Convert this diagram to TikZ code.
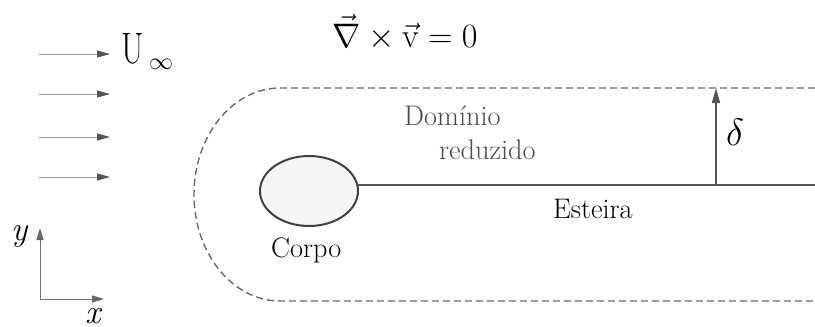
\RequirePackage{fix-cm}
\documentclass[tikz,border=0pt]{standalone}
\usepackage{fontspec}
\usetikzlibrary{arrows.meta,shapes.geometric}
\definecolor{flowline}{HTML}{999999}
\definecolor{flowhead}{HTML}{555555}
\definecolor{dashcol}{HTML}{6A6A6A}
\definecolor{wakecol}{HTML}{555555}
\definecolor{bodyfill}{HTML}{F5F5F5}
\definecolor{domcol}{HTML}{4A4A4A}
\tikzset{
  flowarrow/.style={draw=flowline, line width=1pt, -{Triangle[length=13pt,width=7pt,color=flowhead]}},
  axisarrow/.style={draw=flowhead!80, line width=1pt, -{Triangle[length=12pt,width=7pt,color=flowhead!90]}},
  domainline/.style={draw=dashcol, line width=1.4pt, dash pattern=on 7pt off 4pt},
  bodyshape/.style={ellipse, draw=black!75, line width=2pt, fill=bodyfill, minimum width=98pt, minimum height=70pt, inner sep=0pt},
  wakeline/.style={draw=wakecol, line width=2pt},
  deltaarrow/.style={draw=wakecol, line width=1.6pt, -{Triangle[length=15pt,width=8pt,color=wakecol]}},
  lbl/.style={anchor=base west, inner sep=0pt, font=\fontsize{28.3}{33}\selectfont\addfontfeatures{FakeBold=0.6}},
}
\begin{document}
\begin{tikzpicture}[x=1pt,y=-1pt]
\useasboundingbox (0,0) rectangle (815,327);
% free stream arrows
\foreach \i/\yy in {1/54,2/94,3/137,4/177}{
  \coordinate (fs\i) at (39,\yy);
  \coordinate (fe\i) at (110,\yy);
  \draw[flowarrow] (fs\i) -- (fe\i);
}
\node[anchor=base west, inner sep=0pt, font=\fontsize{40}{44}\selectfont\addfontfeatures{FakeBold=0.6}] (U) at (121,63) {\scalebox{0.81}[1.1]{U}};
\node[anchor=base west, inner sep=0pt, font=\fontsize{24}{27}\selectfont] (inf) at (149,69) {$\infty$};
% curl equation
\node[anchor=base west, inner sep=0pt, font=\fontsize{34}{38}\selectfont] (curl) at (332,47) {$\vec{\nabla}\times\vec{\mathrm{v}}=0$};
% reduced domain
\coordinate (dtr) at (815,88);
\coordinate (dtl) at (280,88);
\coordinate (dbr) at (815,301);
\draw[domainline] (dtr) -- (dtl) arc[start angle=270, end angle=90, x radius=86, y radius=106.5] -- (dbr);
% body and wake
\node[bodyshape] (body) at (309,191) {};
\coordinate (wakeend) at (815,185);
\draw[wakeline] (body.7) -- (body.7 -| wakeend);
% delta
\coordinate (dbase) at (716,185);
\coordinate (dtop) at (716,88);
\draw[deltaarrow] (dbase) -- (dtop);
\node[anchor=base west, inner sep=0pt, font=\fontsize{38}{42}\selectfont] (delta) at (726,145) {$\delta$};
% labels
\node[lbl, text=domcol] (dom1) at (404,125) {Domínio};
\node[lbl, text=domcol] (dom2) at (439,159) {reduzido};
\node[lbl] (esteira) at (553,218) {Esteira};
\node[lbl] (corpo) at (271,257) {Corpo};
% axes
\coordinate (org) at (40,299);
\coordinate (ytip) at (40,228);
\coordinate (xtip) at (104,299);
\draw[axisarrow] (org) -- (ytip);
\draw[axisarrow] (org) -- (xtip);
\node[anchor=base west, inner sep=0pt, font=\fontsize{34}{38}\selectfont\addfontfeatures{FakeBold=0.4}] (ylab) at (11,240) {\textit{y}};
\node[anchor=base west, inner sep=0pt, font=\fontsize{34}{38}\selectfont\addfontfeatures{FakeBold=0.4}] (xlab) at (85,323) {\textit{x}};
\end{tikzpicture}
\end{document}
